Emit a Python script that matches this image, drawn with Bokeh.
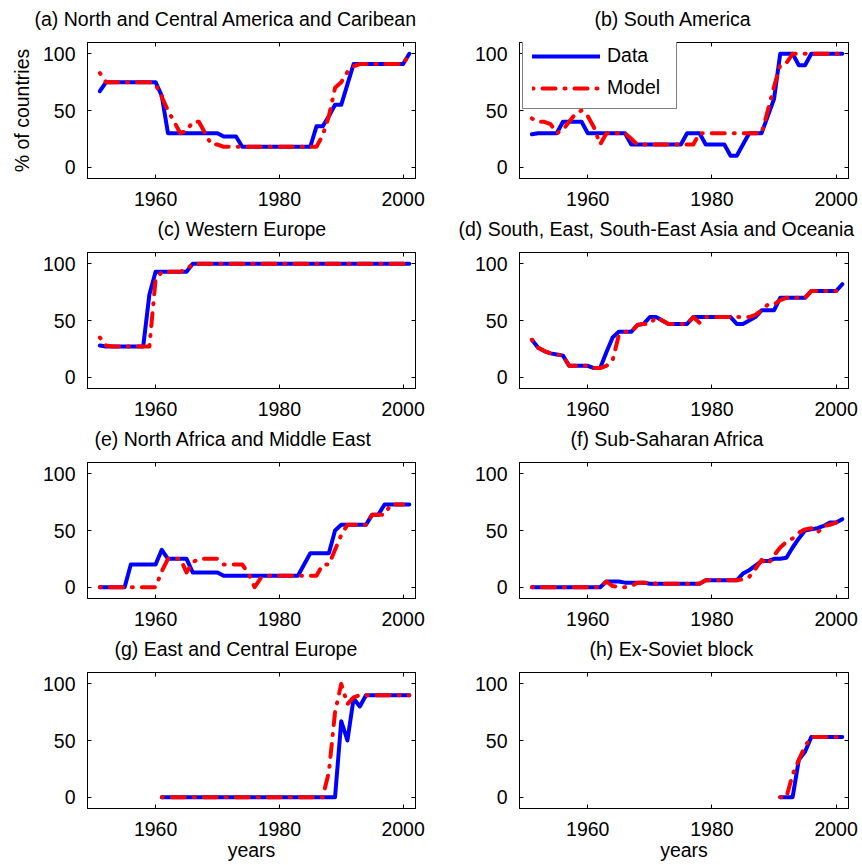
from bokeh.plotting import figure
from bokeh.layouts import column, row
from bokeh.models import FixedTicker, LinearAxis, Range1d, Legend, LegendItem, ColumnDataSource
from bokeh.embed import file_html
from bokeh.resources import INLINE

nan = float("nan")

# Share of countries (%) per region, 1951-2001: observed data vs. model
YEARS = list(range(1951, 2002))

A_DATA = [67, 75, 75, 75, 75, 75, 75, 75, 75, 75,
          63, 30, 30, 30, 30, 30, 30, 30, 30, 30,
          27, 27, 27, 18, 18, 18, 18, 18, 18, 18,
          18, 18, 18, 18, 18, 36, 36, 45, 55, 55,
          73, 91, 91, 91, 91, 91, 91, 91, 91, 91, 100]
A_MODEL = [83, 75, 75, 75, 75, 75, 75, 75, 75, 73,
           62, 50, 40, 30, 32, 40, 40, 30, 20, 20,
           18, 18, 18, 18, 18, 18, 18, 18, 18, 18,
           18, 18, 18, 18, 18, 18, 28, 45, 70, 75,
           84, 89, 91, 91, 91, 91, 91, 91, 91, 91, 100]

B_DATA = [29, 30, 30, 30, 30, 40, 40, 40, 40, 30,
          30, 30, 30, 30, 30, 30, 20, 20, 20, 20,
          20, 20, 20, 20, 20, 30, 30, 30, 20, 20,
          20, 20, 10, 10, 20, 30, 30, 30, 45, 60,
          100, 100, 100, 90, 90, 100, 100, 100, 100, 100, 100]
B_MODEL = [43, 40, 40, 38, 30, 33, 40, 47, 50, 45,
           35, 20, 30, 30, 30, 30, 25, 20, 20, 20,
           20, 20, 20, 20, 20, 20, 20, 30, 30, 30,
           30, 30, 30, 30, 30, 30, 30, 30, 50, 71,
           90, 92, 100, 100, 100, 100, 100, 100, 100, 100, 100]

C_DATA = [28, 27, 27, 27, 27, 27, 27, 27, 73, 93,
          93, 93, 93, 93, 93] + [100] * 36
C_MODEL = [35, 28, 27, 27, 27, 27, 27, 27, 27, 86,
           93, 93, 93, 93, 95] + [100] * 36

D_DATA = [33, 26, 23, 21, 20, 19, 10, 10, 10, 10,
          8, 8, 22, 35, 40, 40, 40, 46, 47, 53,
          53, 50, 47, 47, 47, 47, 53, 53, 53, 53,
          53, 53, 53, 47, 47, 50, 53, 59, 59, 59,
          70, 70, 70, 70, 70, 76, 76, 76, 76, 76, 82]
D_MODEL = [33, 26, 23, 21, 20, 19, 10, 10, 10, 10,
           8, 8, 10, 15, 37, 40, 40, 46, 47, 47,
           53, 50, 47, 47, 47, 47, 53, 48, 53, 53,
           53, 53, 53, 53, 53, 53, 55, 59, 64, 64,
           68, 70, 70, 70, 70, 76, 76, 76, 76, 76, nan]

E_DATA = [0, 0, 0, 0, 0, 20, 20, 20, 20, 20,
          33, 25, 25, 25, 25, 13, 13, 13, 13, 13,
          10, 10, 10, 10, 10, 10, 10, 10, 10, 10,
          10, 10, 10, 20, 30, 30, 30, 30, 50, 55,
          55, 55, 55, 55, 64, 64, 73, 73, 73, 73, 73]
E_MODEL = [0, 0, 0, 0, 0, 0, 0, 0, 0, 0,
           14, 25, 25, 25, 13, 22, 25, 25, 25, 25,
           20, 20, 20, 20, 12, 0, 8, 10, 10, 10,
           10, 10, 10, 10, 10, 10, 20, 20, 33, 46,
           55, 55, 55, 55, 64, 64, 64, 73, 73, 73, nan]

F_DATA = [0, 0, 0, 0, 0, 0, 0, 0, 0, 0,
          0, 0, 5, 5, 5, 4, 4, 4, 4, 3,
          3, 3, 3, 3, 3, 3, 3, 3, 6, 6,
          6, 6, 6, 6, 12, 15, 19, 23, 23, 25,
          25, 26, 35, 43, 50, 51, 52, 54, 57, 57, 60]
F_MODEL = [0, 0, 0, 0, 0, 0, 0, 0, 0, 0,
           0, 0, 5, 1, 0, 0, 1, 4, 4, 4,
           3, 3, 3, 3, 3, 3, 3, 3, 6, 6,
           6, 6, 6, 6, 7, 9, 16, 24, 20, 28,
           35, 40, 43, 48, 51, 52, 48, 54, 55, 57, nan]

G_DATA = [nan] * 10 + [0] * 29 + [67, 50, 87, 80, 90, 90, 90, 90, 90, 90, 90, 90]
G_MODEL = [nan] * 10 + [0] * 27 + [22, 75, 100, 82, 88, 90, 90, 90, 90, 90, 90, 90, 90, 90]

H_DATA = [nan] * 40 + [0, 0, 0, 33, 40, 53, 53, 53, 53, 53, 53]
H_MODEL = [nan] * 40 + [0, 0, 20, 33, 45, 53, 53, 53, 53, 53, 53]

TITLES = [
    "(a) North and Central America and Caribean",
    "(b) South America",
    "(c) Western Europe",
    "(d) South, East, South-East Asia and Oceania",
    "(e) North Africa and Middle East",
    "(f) Sub-Saharan Africa",
    "(g) East and Central Europe",
    "(h) Ex-Soviet block",
]
SERIES = [(A_DATA, A_MODEL), (B_DATA, B_MODEL), (C_DATA, C_MODEL), (D_DATA, D_MODEL),
          (E_DATA, E_MODEL), (F_DATA, F_MODEL), (G_DATA, G_MODEL), (H_DATA, H_MODEL)]
X_TICKS = [1960, 1980, 2000]
Y_TICKS = [0, 50, 100]

FONT = "Liberation Sans"
FS = "19.5px"
BLUE = "#0000ff"
RED = "#ff0000"

# horizontal title offsets from the frame's left edge
TITLE_OFFSETS = [-53, 75, 70, -61, 7, 51, 27, 70]
FRAME_H = 136


def make_panel(i):
    col = i % 2
    rown = i // 2
    top = 42 if rown == 0 else 38
    bottom = 57 if rown == 3 else 36
    h = top + FRAME_H + bottom
    left = 87 if col == 0 else 88
    right = 16 if col == 0 else 14
    p = figure(width=431, height=h, output_backend="svg", toolbar_location=None,
               x_range=Range1d(1949, 2002), y_range=Range1d(-10, 110),
               min_border_left=left, min_border_right=right,
               min_border_top=top, min_border_bottom=bottom,
               background_fill_color="white", border_fill_color="white")
    p.grid.visible = False
    p.outline_line_color = "black"
    p.outline_line_width = 1

    p.title.text = TITLES[i]
    p.title.align = "left"
    p.title.offset = TITLE_OFFSETS[i]
    p.title.text_font = FONT
    p.title.text_font_size = FS
    p.title.text_font_style = "normal"
    p.title.text_color = "black"
    p.title.standoff = 0

    xax = p.xaxis[0]
    yax = p.yaxis[0]
    for ax, ticks in ((xax, X_TICKS), (yax, Y_TICKS)):
        ax.ticker = FixedTicker(ticks=ticks)
        ax.major_tick_in = 4
        ax.major_tick_out = 0
        ax.minor_tick_line_color = None
        ax.axis_line_color = "black"
        ax.major_tick_line_color = "black"
        ax.major_label_text_font = FONT
        ax.major_label_text_font_size = FS
        ax.major_label_text_color = "black"
        ax.axis_label_text_font = FONT
        ax.axis_label_text_font_size = FS
        ax.axis_label_text_font_style = "normal"
        ax.axis_label_text_color = "black"
    xax.major_label_standoff = 13
    yax.major_label_standoff = 12
    yax.axis_label_standoff = 7
    xax.axis_label_standoff = 0

    if i == 0:
        yax.axis_label = "% of countries"
    if rown == 3:
        xax.axis_label = "years"

    # mirrored tick marks on the top and right edges (no labels)
    for side, ticks in (("above", X_TICKS), ("right", Y_TICKS)):
        ax = LinearAxis(ticker=FixedTicker(ticks=ticks), major_tick_in=4, major_tick_out=0,
                        minor_tick_line_color=None, major_label_text_font_size="1px",
                        major_label_text_color=None, major_label_standoff=0,
                        axis_line_color="black", major_tick_line_color="black")
        p.add_layout(ax, side)

    # blank spacer between the frame and the title
    spacer = LinearAxis(ticker=FixedTicker(ticks=X_TICKS), major_tick_in=0, major_tick_out=13,
                        minor_tick_line_color=None, major_label_text_font_size="1px",
                        major_label_text_color=None, major_label_standoff=0,
                        axis_line_color=None, major_tick_line_color=None)
    p.add_layout(spacer, "above")

    data, model = SERIES[i]
    src = ColumnDataSource(dict(year=YEARS, data=data, model=model))
    r_data = p.line("year", "data", source=src, line_color=BLUE, line_width=4,
                    line_join="round", line_cap="round")
    r_model = p.line("year", "model", source=src, line_color=RED, line_width=4,
                     line_join="round", line_cap="round", line_dash="13 9 1 9",
                     line_dash_offset=22)

    if i == 1:
        legend = Legend(items=[LegendItem(label="Data", renderers=[r_data]),
                               LegendItem(label="Model", renderers=[r_model])],
                        location=(3, FRAME_H - 67), margin=0, padding=9, spacing=9,
                        glyph_width=68, glyph_height=20, label_height=20, label_width=60,
                        label_standoff=7, label_text_font=FONT, label_text_font_size=FS,
                        label_text_color="black", border_line_color="black",
                        border_line_width=1, background_fill_color="white",
                        background_fill_alpha=1.0)
        p.add_layout(legend)
    return p


panels = [make_panel(i) for i in range(8)]
layout = column(row(panels[0], panels[1]), row(panels[2], panels[3]),
                row(panels[4], panels[5]), row(panels[6], panels[7]))

open("out.html", "w").write(file_html(layout, INLINE))
